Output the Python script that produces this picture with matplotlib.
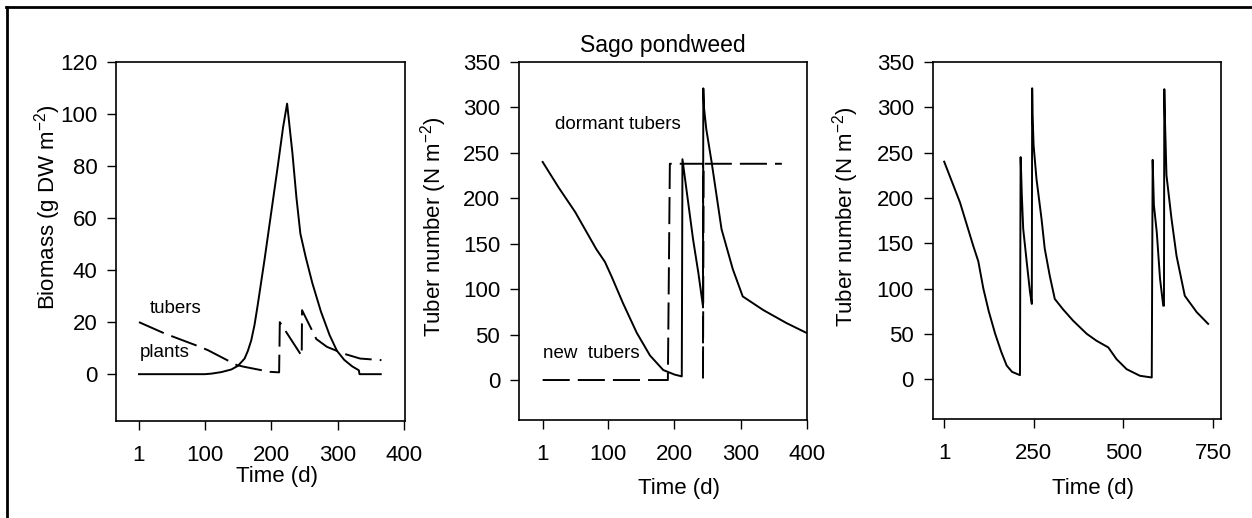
import matplotlib
matplotlib.use('Agg')
import matplotlib.pyplot as plt
from matplotlib.lines import Line2D

plt.rcParams['font.family'] = ['Liberation Sans', 'DejaVu Sans']
plt.rcParams['mathtext.default'] = 'regular'
plt.rcParams['lines.scale_dashes'] = False

# panel 1: biomass
p1_day = [1, 100, 110, 125, 140, 150, 160, 165, 170, 175, 180, 190, 200, 210, 218, 224,
          232, 238, 244, 252, 262, 275, 288, 299, 310, 322, 332, 333, 365]
p1_plants = [0, 0, 0.2, 0.8, 1.8, 3.2, 6, 9, 13, 19, 27, 44, 62, 80, 95, 104,
             85, 68, 54, 45, 35, 24, 15, 9, 5.5, 3, 1.5, 0, 0]
p1_tub_day = [1, 40, 93, 105, 148, 160, 198, 212, 213, 246, 246.5, 268, 284, 309, 334, 366]
p1_tubers = [20, 15.6, 10.5, 9.2, 3.5, 2.8, 0.9, 0.7, 20, 7, 24.6, 13.5, 10.5, 7.9, 6, 5.4]

# panel 2: tuber number, one year
p2_day = [1, 25, 50, 82, 95, 105, 122, 143, 163, 183, 200, 211, 212, 218, 228, 236, 243,
          243.5, 244.5, 248, 256, 271, 288, 303, 334, 369, 400]
p2_total = [240, 212, 185, 144, 130, 114, 85, 52, 27, 11, 6, 4, 243, 210, 155, 118, 81,
            321, 300, 276, 240, 166, 122, 92, 77, 62.7, 51.6]
p2_new_day = [1, 190, 193, 243, 243, 244, 362]
p2_new = [0, 0, 238, 238, 0, 238, 238]

# panel 3: tuber number, two years
p3_day = [1, 45, 82, 96, 110, 125, 143, 160, 175, 190, 212, 213.8, 215.5, 217, 221, 232, 240,
          245, 246, 247, 250, 258, 272, 281, 295, 309, 332, 360, 398, 425, 458, 481, 509, 546,
          579, 581.5, 583, 585, 593, 602, 611, 613, 614, 615.5, 620, 634, 648, 671, 704, 736]
p3_total = [240, 195, 147, 130, 100, 75, 50, 30, 15, 8, 4.4, 245, 225, 205, 166, 125, 96,
            83, 321, 292, 258, 221, 177, 144, 114, 88.5, 77, 64.5, 50, 42.4, 35, 22, 11, 3.7,
            1.8, 242, 220, 192, 162, 111, 81, 81, 320, 290, 225, 177, 136, 92, 74, 61]

W, H = 1252, 518
fig = plt.figure(figsize=(W / 100, H / 100), dpi=100)

dash = (19.5, 5.8)
lw = 1.4


def make_ax(left, right, top, bottom):
    ax = fig.add_axes([left / W, 1 - bottom / H, (right - left) / W, (bottom - top) / H])
    for s in ax.spines.values():
        s.set_linewidth(1.2)
    ax.tick_params(direction='out', length=6.5, width=1.0, labelsize=16, pad=7)
    ax.tick_params(axis='x', pad=11)
    return ax


# panel 1
ax1 = make_ax(116, 405, 62, 421)
ax1.plot(p1_day, p1_plants, color='black', lw=lw)
ax1.plot(p1_tub_day, p1_tubers, color='black', lw=lw, dashes=dash)
ax1.set_xlim(-33.6, 401.5)
ax1.set_ylim(-18, 120)
ax1.set_xticks([1, 100, 200, 300, 400])
ax1.set_yticks([0, 20, 40, 60, 80, 100, 120])
ax1.set_ylabel('Biomass (g DW m$^{-2}$)', fontsize=16)
ax1.yaxis.set_label_coords(-0.185, 0.596)
ax1.set_xlabel('Time (d)', fontsize=16)
ax1.xaxis.set_label_coords(0.556, -0.125)
ax1.text(17, 25.4, 'tubers', fontsize=13.5, va='center')
ax1.text(2, 8.3, 'plants', fontsize=13.5, va='center')

# panel 2
ax2 = make_ax(519, 807, 62, 420)
ax2.plot(p2_day, p2_total, color='black', lw=lw)
ax2.plot(p2_new_day, p2_new, color='black', lw=lw, dashes=dash)
ax2.set_xlim(-34.7, 400)
ax2.set_ylim(-44, 350)
ax2.set_xticks([1, 100, 200, 300, 400])
ax2.set_yticks([0, 50, 100, 150, 200, 250, 300, 350])
ax2.set_ylabel('Tuber number (N m$^{-2}$)', fontsize=16)
ax2.yaxis.set_label_coords(-0.243, 0.539)
ax2.set_xlabel('Time (d)', fontsize=16)
ax2.xaxis.set_label_coords(0.556, -0.162)
ax2.set_title('Sago pondweed', fontsize=16.5, pad=7)
ax2.text(19.6, 281, 'dormant tubers', fontsize=13.5, va='center')
ax2.text(2, 28.8, 'new  tubers', fontsize=13.5, va='center')

# panel 3
ax3 = make_ax(932.7, 1220.7, 62, 419)
ax3.plot(p3_day, p3_total, color='black', lw=lw)
ax3.set_xlim(-31, 771)
ax3.set_ylim(-44, 350)
ax3.set_xticks([1, 250, 500, 750])
ax3.set_yticks([0, 50, 100, 150, 200, 250, 300, 350])
ax3.set_ylabel('Tuber number (N m$^{-2}$)', fontsize=16)
ax3.yaxis.set_label_coords(-0.25, 0.566)
ax3.set_xlabel('Time (d)', fontsize=16)
ax3.xaxis.set_label_coords(0.556, -0.165)

# outer frame (top and left edges)
fig.add_artist(Line2D([6 / W, 1], [1 - 7 / H, 1 - 7 / H], color='black', lw=2))
fig.add_artist(Line2D([7 / W, 7 / W], [0, 1 - 7 / H], color='black', lw=2))

fig.savefig('out.png', dpi=100)
